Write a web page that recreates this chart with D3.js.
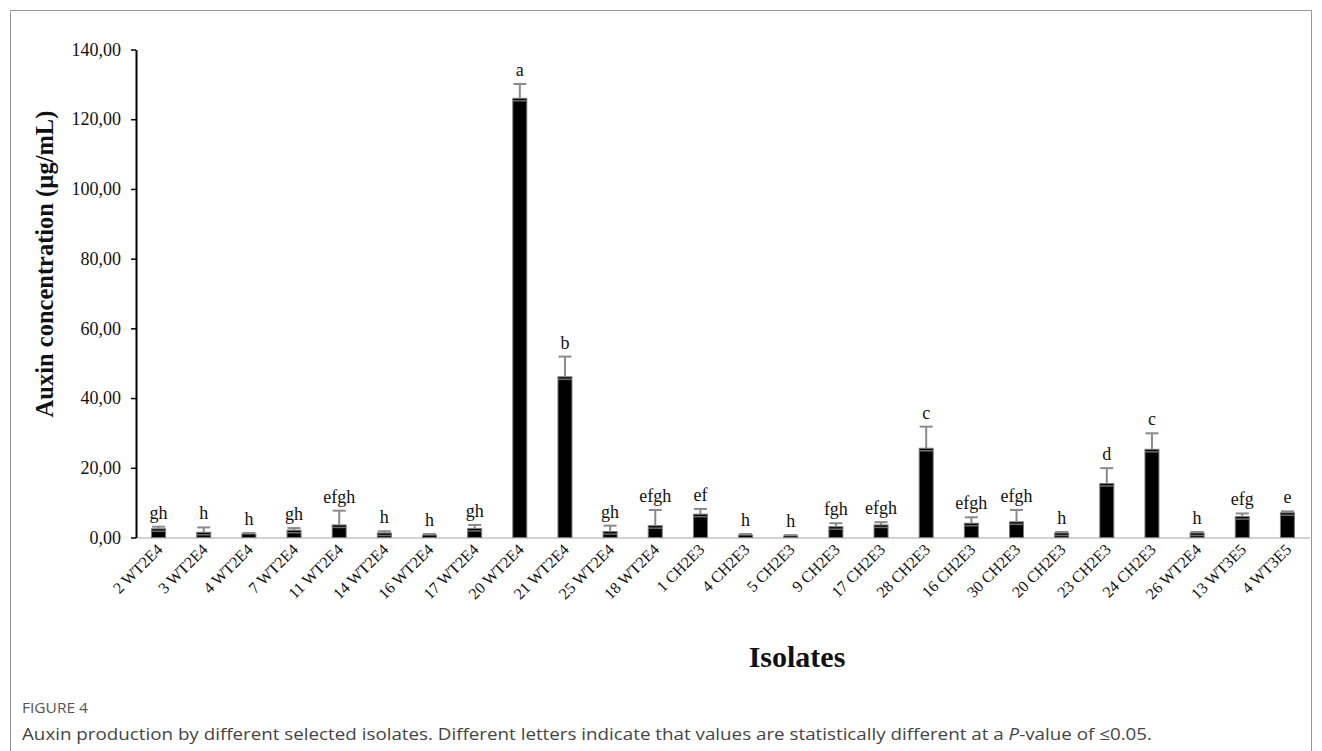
<!DOCTYPE html>
<html>
<head>
<meta charset="utf-8">
<script src="https://cdn.jsdelivr.net/npm/d3@7"></script>
<style>
  html, body { margin: 0; padding: 0; background: #fff; }
  svg { display: block; }
</style>
</head>
<body>
<svg id="chart" width="1322" height="751"></svg>
<script>
// Isolates and their mean auxin concentration (µg/mL)
const isolates = [
  "2 WT2E4", "3 WT2E4", "4 WT2E4", "7 WT2E4", "11 WT2E4", "14 WT2E4", "16 WT2E4",
  "17 WT2E4", "20 WT2E4", "21 WT2E4", "25 WT2E4", "18 WT2E4", "1 CH2E3", "4 CH2E3",
  "5 CH2E3", "9 CH2E3", "17 CH2E3", "28 CH2E3", "16 CH2E3", "30 CH2E3", "20 CH2E3",
  "23 CH2E3", "24 CH2E3", "26 WT2E4", "13 WT3E5", "4 WT3E5"
];
const means = [
  2.5, 1.5, 1.0, 2.1, 3.6, 1.3, 0.7,
  2.6, 126.0, 46.1, 1.7, 3.4, 6.7, 0.7,
  0.5, 3.1, 3.6, 25.6, 4.1, 4.5, 1.3,
  15.5, 25.3, 1.3, 6.0, 7.1
];
// Standard deviations drawn as error bars
const deviations = [
  0.6, 1.4, 0.3, 0.6, 4.1, 0.5, 0.3,
  1.0, 4.1, 5.8, 1.7, 4.5, 1.5, 0.3,
  0.2, 1.0, 0.8, 6.2, 1.7, 3.4, 0.3,
  4.4, 4.6, 0.3, 0.9, 0.4
];
// Significance groups (P ≤ 0.05)
const groups = [
  "gh", "h", "h", "gh", "efgh", "h", "h",
  "gh", "a", "b", "gh", "efgh", "ef", "h",
  "h", "fgh", "efgh", "c", "efgh", "efgh", "h",
  "d", "c", "h", "efg", "e"
];
const yTicks = [0, 20, 40, 60, 80, 100, 120, 140];

const rows = isolates.map((name, i) => ({
  name, mean: means[i], sd: deviations[i], group: groups[i]
}));

const svg = d3.select("#chart");
const serif = "'Liberation Serif', 'Times New Roman', serif";
const sans = "'Open Sans', 'Noto Sans', sans-serif";

// figure frame
svg.append("rect")
  .attr("x", 10.5).attr("y", 10.5)
  .attr("width", 1301).attr("height", 800)
  .attr("fill", "none").attr("stroke", "#9a9a9a").attr("stroke-width", 1);

const x = d3.scaleBand()
  .domain(isolates)
  .range([136, 1310])
  .paddingInner(0.69)
  .paddingOuter(0.345);

const y = d3.scaleLinear()
  .domain([0, 140])
  .range([537.5, 49.5]);

const comma = d3.formatLocale({ decimal: ",", thousands: ".", grouping: [3], currency: ["", ""] });
const fmt = comma.format(".2f");

// baseline
svg.append("line")
  .attr("x1", 136).attr("x2", 1310)
  .attr("y1", y(0) + 0.5).attr("y2", y(0) + 0.5)
  .attr("stroke", "#c4c4c4").attr("stroke-width", 1.5);

// y axis
const yAxis = svg.append("g")
  .attr("transform", "translate(136,0)")
  .call(d3.axisLeft(y).tickValues(yTicks).tickFormat(fmt).tickSize(5).tickPadding(10).tickSizeOuter(0));
yAxis.select(".domain").attr("stroke", "#000").attr("stroke-width", 2);
yAxis.selectAll(".tick line").attr("stroke", "#000").attr("stroke-width", 1.5);
yAxis.selectAll(".tick text")
  .attr("font-family", serif).attr("font-size", 18).attr("fill", "#111");

// bars
const bars = svg.append("g");
bars.selectAll("rect")
  .data(rows)
  .join("rect")
  .attr("x", d => x(d.name))
  .attr("y", d => y(d.mean))
  .attr("width", x.bandwidth())
  .attr("height", d => y(0) - y(d.mean))
  .attr("fill", "#000")
  .attr("stroke", "#7a7a7a")
  .attr("stroke-width", 1);

// grey rim just under each bar top
bars.selectAll("line.rim")
  .data(rows.filter(d => y(0) - y(d.mean) > 4))
  .join("line")
  .attr("class", "rim")
  .attr("x1", d => x(d.name))
  .attr("x2", d => x(d.name) + x.bandwidth())
  .attr("y1", d => y(d.mean) + 2.5)
  .attr("y2", d => y(d.mean) + 2.5)
  .attr("stroke", "#6e6e6e").attr("stroke-width", 1.5);

// error bars
const err = svg.append("g").attr("stroke", "#8a8a8a").attr("stroke-width", 2);
err.selectAll("line.stem")
  .data(rows)
  .join("line")
  .attr("class", "stem")
  .attr("x1", d => x(d.name) + x.bandwidth() / 2)
  .attr("x2", d => x(d.name) + x.bandwidth() / 2)
  .attr("y1", d => y(d.mean))
  .attr("y2", d => y(d.mean + d.sd));
err.selectAll("line.cap")
  .data(rows)
  .join("line")
  .attr("class", "cap")
  .attr("x1", d => x(d.name) + x.bandwidth() / 2 - 6.5)
  .attr("x2", d => x(d.name) + x.bandwidth() / 2 + 6.5)
  .attr("y1", d => y(d.mean + d.sd))
  .attr("y2", d => y(d.mean + d.sd));

// significance letters
svg.append("g").selectAll("text")
  .data(rows)
  .join("text")
  .attr("x", d => x(d.name) + x.bandwidth() / 2)
  .attr("y", d => y(d.mean + d.sd) - 8)
  .attr("text-anchor", "middle")
  .attr("font-family", serif).attr("font-size", 18).attr("fill", "#111")
  .text(d => d.group);

// category labels, rotated
svg.append("g").selectAll("text")
  .data(isolates)
  .join("text")
  .attr("transform", d => `translate(${x(d) + x.bandwidth() / 2 + 5},${y(0) + 13}) rotate(-45)`)
  .attr("text-anchor", "end")
  .attr("font-family", serif).attr("font-size", 16).attr("fill", "#111")
  .text(d => d);

// axis titles
svg.append("text")
  .attr("transform", "translate(53,264) rotate(-90)")
  .attr("text-anchor", "middle")
  .attr("font-family", serif).attr("font-size", 24.5).attr("font-weight", "bold").attr("fill", "#111")
  .text("Auxin concentration (µg/mL)");

svg.append("text")
  .attr("x", 797).attr("y", 667)
  .attr("text-anchor", "middle")
  .attr("font-family", serif).attr("font-size", 30).attr("font-weight", "bold").attr("fill", "#111")
  .text("Isolates");

// caption
svg.append("text")
  .attr("x", 22).attr("y", 713)
  .attr("font-family", sans).attr("font-size", 14).attr("fill", "#555")
  .attr("textLength", 66).attr("lengthAdjust", "spacingAndGlyphs")
  .text("FIGURE 4");

const cap = svg.append("text")
  .attr("x", 22).attr("y", 740)
  .attr("font-family", sans).attr("font-size", 16.5).attr("fill", "#444")
  .attr("textLength", 1130).attr("lengthAdjust", "spacingAndGlyphs");
cap.append("tspan").text("Auxin production by different selected isolates. Different letters indicate that values are statistically different at a ");
cap.append("tspan").attr("font-style", "italic").text("P");
cap.append("tspan").text("-value of ≤0.05.");
</script>
</body>
</html>
